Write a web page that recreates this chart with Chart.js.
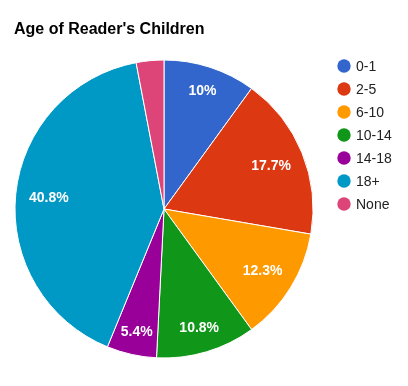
<!DOCTYPE html>
<html>
<head>
<meta charset="utf-8">
<script src="https://cdn.jsdelivr.net/npm/chart.js@4"></script>
<style>
html,body{margin:0;padding:0;background:#fff;}
#wrap{position:relative;width:408px;height:386px;}
</style>
</head>
<body>
<div id="wrap"><canvas id="c" width="408" height="386"></canvas></div>
<script>
const title = "Age of Reader's Children";
const categories = ["0-1", "2-5", "6-10", "10-14", "14-18", "18+", "None"];
const values = [10, 17.7, 12.3, 10.8, 5.4, 40.8, 3.0];
const colors = ["#3366cc", "#dc3912", "#ff9900", "#109618", "#990099", "#0099c6", "#dd4477"];

const FONT = "Arial, 'Liberation Sans', sans-serif";

const overlay = {
  id: 'overlay',
  afterDraw(chart) {
    const ctx = chart.ctx;
    const meta = chart.getDatasetMeta(0);
    const total = values.reduce((a, b) => a + b, 0);
    ctx.save();
    // slice labels
    ctx.font = "bold 14px " + FONT;
    ctx.fillStyle = "#ffffff";
    ctx.textAlign = "center";
    ctx.textBaseline = "middle";
    meta.data.forEach((arc, i) => {
      const pct = values[i] / total * 100;
      if (pct < 4) return;
      const txt = (Math.round(pct * 10) / 10) + "%";
      const mid = (arc.startAngle + arc.endAngle) / 2;
      const ca = Math.cos(mid), sa = Math.sin(mid);
      const hw = ctx.measureText(txt).width / 2, hh = 5;
      const d = 0.893 * arc.outerRadius - (0.85 * hw * Math.abs(ca) + hh * Math.abs(sa));
      ctx.fillText(txt, arc.x + d * ca, arc.y + d * sa + 1);
    });
    // title
    ctx.textAlign = "left";
    ctx.textBaseline = "alphabetic";
    ctx.fillStyle = "#000000";
    ctx.font = "bold 16px " + FONT;
    ctx.fillText(title, 14, 34);
    // legend
    ctx.font = "14px " + FONT;
    ctx.textBaseline = "middle";
    categories.forEach((c, i) => {
      const y = 66 + i * 23;
      ctx.beginPath();
      ctx.fillStyle = colors[i];
      ctx.arc(344, y, 6.7, 0, Math.PI * 2);
      ctx.fill();
      ctx.fillStyle = "#222222";
      ctx.fillText(c, 356, y + 1);
    });
    ctx.restore();
  }
};

new Chart(document.getElementById('c'), {
  type: 'pie',
  data: {
    labels: categories,
    datasets: [{
      data: values,
      backgroundColor: colors,
      borderColor: '#ffffff',
      borderWidth: 1
    }]
  },
  options: {
    responsive: false,
    animation: false,
    events: [],
    layout: { padding: { left: 14.5, right: 94.5, top: 59, bottom: 27 } },
    plugins: {
      legend: { display: false },
      title: { display: false },
      tooltip: { enabled: false }
    }
  },
  plugins: [overlay]
});
</script>
</body>
</html>
